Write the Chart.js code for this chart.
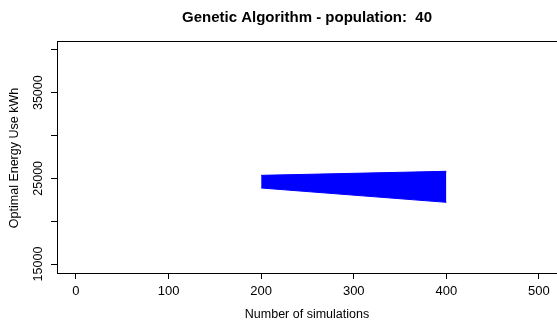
<!DOCTYPE html>
<html>
<head>
<meta charset="utf-8">
<script src="https://cdn.jsdelivr.net/npm/chart.js@4"></script>
<style>
  html, body { margin: 0; padding: 0; background: #fff; overflow: hidden; }
  #wrap { width: 557px; height: 324px; }
</style>
</head>
<body>
<div id="wrap"><canvas id="gaChart"></canvas></div>
<script>
// band of optimal energy use between 200 and 400 simulations
const simulations = [200, 400];
const upperEnergy = [25350, 25820];
const lowerEnergy = [23870, 22200];

const xTicks = [0, 100, 200, 300, 400, 500];
const yTicks = [15000, 20000, 25000, 30000, 35000, 40000];
const yLabelled = [15000, 25000, 35000];

const FONT = '"Liberation Sans", Arial, sans-serif';

// title, axis labels and rotated y tick labels, R style
const rLabels = {
  id: 'rLabels',
  afterDraw(chart) {
    const { ctx, chartArea: a, scales } = chart;
    const cx = (a.left + a.right) / 2;
    ctx.save();
    ctx.fillStyle = '#000';
    ctx.textAlign = 'center';
    ctx.textBaseline = 'middle';

    ctx.font = 'bold 15px ' + FONT;
    ctx.fillText('Genetic Algorithm - population:  40', cx, 18);

    ctx.font = '12.5px ' + FONT;
    ctx.fillText('Number of simulations', cx, 315);

    // top edge of the plot box
    ctx.strokeStyle = '#000';
    ctx.lineWidth = 1;
    ctx.beginPath();
    ctx.moveTo(a.left, a.top + 0.5);
    ctx.lineTo(a.right, a.top + 0.5);
    ctx.stroke();

    ctx.save();
    ctx.translate(15, (a.top + a.bottom) / 2 + 1);
    ctx.rotate(-Math.PI / 2);
    ctx.fillText('Optimal Energy Use kWh', 0, 0);
    ctx.restore();

    ctx.font = '12.5px ' + FONT;
    yLabelled.forEach(v => {
      const y = scales.y.getPixelForValue(v);
      ctx.save();
      ctx.translate(39, y);
      ctx.rotate(-Math.PI / 2);
      ctx.fillText(String(v), 0, 0);
      ctx.restore();
    });
    ctx.restore();
  }
};

const ctx = document.getElementById('gaChart').getContext('2d');
new Chart(ctx, {
  type: 'line',
  data: {
    datasets: [
      {
        data: simulations.map((x, i) => ({ x, y: upperEnergy[i] })),
        borderColor: '#0000ff',
        backgroundColor: '#0000ff',
        borderWidth: 1,
        pointRadius: 0,
        fill: false
      },
      {
        data: simulations.map((x, i) => ({ x, y: lowerEnergy[i] })),
        borderColor: '#0000ff',
        backgroundColor: '#0000ff',
        borderWidth: 1,
        pointRadius: 0,
        fill: '-1'
      }
    ]
  },
  options: {
    responsive: true,
    maintainAspectRatio: false,
    animation: false,
    layout: { padding: { top: 41, left: 0, right: 0, bottom: 0 } },
    scales: {
      x: {
        type: 'linear',
        min: -20.5,
        max: 519.5,
        afterBuildTicks: s => { s.ticks = xTicks.map(v => ({ value: v })); },
        afterFit: s => {
          s.height = 51;
          s.paddingLeft = 0;
          s.paddingRight = 0;
        },
        grid: {
          drawOnChartArea: false,
          drawTicks: true,
          tickLength: 6,
          tickColor: '#000'
        },
        border: { display: true, color: '#000', width: 1 },
        ticks: {
          color: '#000',
          padding: 5,
          maxRotation: 0,
          autoSkip: false,
          font: { family: FONT, size: 13 }
        }
      },
      y: {
        type: 'linear',
        min: 13950,
        max: 41030,
        afterBuildTicks: s => { s.ticks = yTicks.map(v => ({ value: v })); },
        afterFit: s => {
          s.width = 57;
          s.paddingTop = 0;
          s.paddingBottom = 0;
        },
        grid: {
          drawOnChartArea: false,
          drawTicks: true,
          tickLength: 6,
          tickColor: '#000'
        },
        border: { display: true, color: '#000', width: 1 },
        ticks: { display: false }
      }
    },
    plugins: {
      legend: { display: false },
      title: { display: false },
      tooltip: { enabled: false }
    }
  },
  plugins: [rLabels]
});
</script>
</body>
</html>
